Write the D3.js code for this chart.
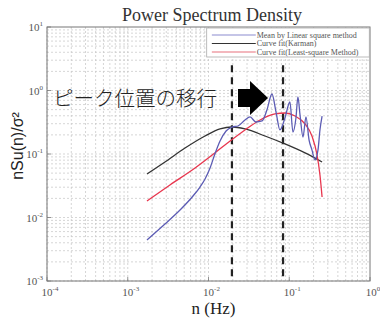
<!DOCTYPE html>
<html>
<head>
<meta charset="utf-8">
<script src="https://cdn.jsdelivr.net/npm/d3@7"></script>
<style>
  body { margin: 0; background: #fff; }
  svg { display: block; }
</style>
</head>
<body>
<script>
var width = 380,
    height = 320;

// Mean by linear square method (blue)
var meanN = [0.00173, 0.00289, 0.00444, 0.00643, 0.00785, 0.00906, 0.01045, 0.0120, 0.0139, 0.0165,
             0.0195, 0.0232, 0.0283, 0.0327, 0.0387, 0.0460, 0.0529, 0.0611, 0.0686, 0.0767,
             0.0885, 0.102, 0.111, 0.121, 0.128, 0.136, 0.148, 0.161, 0.176, 0.191,
             0.208, 0.227, 0.240, 0.255];
var meanV = [0.00443, 0.00790, 0.0131, 0.0218, 0.0302, 0.0404, 0.0602, 0.100, 0.160, 0.230,
             0.266, 0.276, 0.343, 0.383, 0.319, 0.331, 0.493, 0.881, 0.458, 0.239,
             0.369, 0.659, 0.222, 0.369, 0.790, 0.411, 0.185, 0.383, 0.166, 0.116,
             0.0805, 0.116, 0.239, 0.396];

// Curve fit (Karman) (black)
var karmanN = [0.00173, 0.00289, 0.00512, 0.00906, 0.0139, 0.0195, 0.0283, 0.0501, 0.0885, 0.157, 0.255];
var karmanV = [0.0484, 0.0748, 0.124, 0.192, 0.248, 0.266, 0.248, 0.192, 0.144, 0.104, 0.0748];

// Curve fit (least-square method) (red)
var lsqN = [0.00173, 0.00333, 0.00681, 0.0120, 0.0185, 0.0283, 0.0435, 0.0667, 0.0885, 0.118,
            0.157, 0.191, 0.221, 0.240, 0.255];
var lsqV = [0.0182, 0.0325, 0.0602, 0.104, 0.160, 0.239, 0.343, 0.427, 0.442, 0.396,
            0.297, 0.192, 0.0964, 0.0467, 0.0210];

// peak positions (dashed lines)
var peakN = [0.0195, 0.0838];
var peakTop = 2.5;

var xTicks = [1e-4, 1e-3, 1e-2, 1e-1, 1];
var xTickExp = ["-4", "-3", "-2", "-1", "0"];
var yTicks = [1e-3, 1e-2, 1e-1, 1, 10];
var yTickExp = ["-3", "-2", "-1", "0", "1"];

var legendLabels = ["Mean by Linear square method", "Curve fit(Karman)", "Curve fit(Least-square Method)"];
var legendColors = ["#8c8cd0", "#333333", "#e8707c"];

var annotation = "ピーク位置の移行";

var margin = {left: 47, right: 10, top: 27, bottom: 39};

var x = d3.scaleLog().domain([1e-4, 1]).range([margin.left, width - margin.right]);
var y = d3.scaleLog().domain([1e-3, 10]).range([height - margin.bottom, margin.top]);

var svg = d3.select("body").append("svg")
    .attr("width", width)
    .attr("height", height);

// grid
var minorX = [], minorY = [];
for (var e = -4; e < 0; e++) for (var k = 1; k < 10; k++) minorX.push(k * Math.pow(10, e));
for (var e2 = -3; e2 < 1; e2++) for (var k2 = 1; k2 < 10; k2++) minorY.push(k2 * Math.pow(10, e2));

var grid = svg.append("g")
    .attr("stroke", "#c4c4c4")
    .attr("stroke-width", 0.7)
    .attr("stroke-dasharray", "2,2");

grid.selectAll(".gx").data(minorX).join("line")
    .attr("x1", d => x(d)).attr("x2", d => x(d))
    .attr("y1", y(1e-3)).attr("y2", y(10));
grid.selectAll(".gy").data(minorY).join("line")
    .attr("y1", d => y(d)).attr("y2", d => y(d))
    .attr("x1", x(1e-4)).attr("x2", x(1));

// box
svg.append("rect")
    .attr("x", x(1e-4)).attr("y", y(10))
    .attr("width", x(1) - x(1e-4)).attr("height", y(1e-3) - y(10))
    .attr("fill", "none").attr("stroke", "#777").attr("stroke-width", 1);

// tick marks (inward)
var ticks = svg.append("g").attr("stroke", "#777").attr("stroke-width", 0.8);
ticks.selectAll(".tx").data(xTicks).join("line")
    .attr("x1", d => x(d)).attr("x2", d => x(d))
    .attr("y1", y(1e-3)).attr("y2", y(1e-3) - 4);
ticks.selectAll(".ty").data(yTicks).join("line")
    .attr("y1", d => y(d)).attr("y2", d => y(d))
    .attr("x1", x(1e-4)).attr("x2", x(1e-4) + 4);

// tick labels
var serif = "'Liberation Serif', 'DejaVu Serif', serif";
var xl = svg.append("g").attr("font-family", serif).attr("fill", "#555").attr("font-size", 11);
xl.selectAll("text").data(xTicks).join("text")
    .attr("x", d => x(d) + 3)
    .attr("y", y(1e-3) + 15)
    .attr("text-anchor", "middle")
    .each(function(d, i) {
      var t = d3.select(this);
      t.append("tspan").text("10");
      t.append("tspan").attr("dy", -5).attr("font-size", 7).text(xTickExp[i]);
    });

var yl = svg.append("g").attr("font-family", serif).attr("fill", "#555").attr("font-size", 11);
yl.selectAll("text").data(yTicks).join("text")
    .attr("x", x(1e-4) - 4)
    .attr("y", d => y(d) + 4)
    .attr("text-anchor", "end")
    .each(function(d, i) {
      var t = d3.select(this);
      t.append("tspan").text("10");
      t.append("tspan").attr("dy", -5).attr("font-size", 7).text(yTickExp[i]);
    });

// dashed peak lines
svg.append("g").selectAll("line").data(peakN).join("line")
    .attr("x1", d => x(d)).attr("x2", d => x(d))
    .attr("y1", y(peakTop)).attr("y2", y(1e-3))
    .attr("stroke", "#222").attr("stroke-width", 2.2)
    .attr("stroke-dasharray", "7,5");

// curves
var line = d3.line().x(d => x(d[0])).y(d => y(d[1])).curve(d3.curveMonotoneX);
function pairs(a, b) { return a.map((v, i) => [v, b[i]]); }

svg.append("path").datum(pairs(karmanN, karmanV))
    .attr("d", line).attr("fill", "none").attr("stroke", "#333").attr("stroke-width", 1.3);
svg.append("path").datum(pairs(lsqN, lsqV))
    .attr("d", line).attr("fill", "none").attr("stroke", "#e8364e").attr("stroke-width", 1.3);
svg.append("path").datum(pairs(meanN, meanV))
    .attr("d", line).attr("fill", "none").attr("stroke", "#5c5cb4").attr("stroke-width", 1.3);

// legend
var lg = svg.append("g");
lg.append("rect")
    .attr("x", x(0.0095)).attr("y", y(10) + 1)
    .attr("width", x(0.98) - x(0.0095)).attr("height", 29)
    .attr("fill", "#fff").attr("stroke", "#aaa").attr("stroke-width", 0.8);
lg.selectAll("line").data(legendLabels).join("line")
    .attr("x1", x(0.011)).attr("x2", x(0.0385))
    .attr("y1", (d, i) => y(10) + 8 + i * 8.5).attr("y2", (d, i) => y(10) + 8 + i * 8.5)
    .attr("stroke", (d, i) => legendColors[i]).attr("stroke-width", 1.2);
lg.selectAll("text").data(legendLabels).join("text")
    .attr("x", x(0.0395))
    .attr("y", (d, i) => y(10) + 10.5 + i * 8.5)
    .attr("font-family", serif).attr("font-size", 8).attr("fill", "#555")
    .text(d => d);

// annotation text + arrow
svg.append("text")
    .attr("x", x(1.19e-4)).attr("y", y(0.57))
    .attr("font-family", "'Noto Sans CJK JP', sans-serif")
    .attr("font-weight", 300)
    .attr("font-size", 20.5).attr("fill", "#222")
    .text(annotation);

var ax = x(0.0232), ay = y(0.76), tip = x(0.0546);
svg.append("path")
    .attr("d", "M" + ax + "," + (ay - 9) + "H" + (ax + 12) + "V" + (ay - 17) +
               "L" + tip + "," + ay + "L" + (ax + 12) + "," + (ay + 17) +
               "V" + (ay + 9) + "H" + ax + "Z")
    .attr("fill", "#000");

// title and axis labels
svg.append("text")
    .attr("x", 212).attr("y", 21)
    .attr("text-anchor", "middle")
    .attr("font-family", serif).attr("font-size", 18).attr("fill", "#333")
    .text("Power Spectrum Density");

svg.append("text")
    .attr("x", (x(1e-4) + x(1)) / 2 + 5).attr("y", 314)
    .attr("text-anchor", "middle")
    .attr("font-family", serif).attr("font-size", 17).attr("fill", "#222")
    .text("n (Hz)");

svg.append("text")
    .attr("transform", "translate(23,146) rotate(-90)")
    .attr("text-anchor", "middle")
    .attr("font-family", "'Liberation Sans', Arial, sans-serif").attr("font-size", 16).attr("fill", "#222")
    .text("nSu(n)/σ²");
</script>
</body>
</html>
